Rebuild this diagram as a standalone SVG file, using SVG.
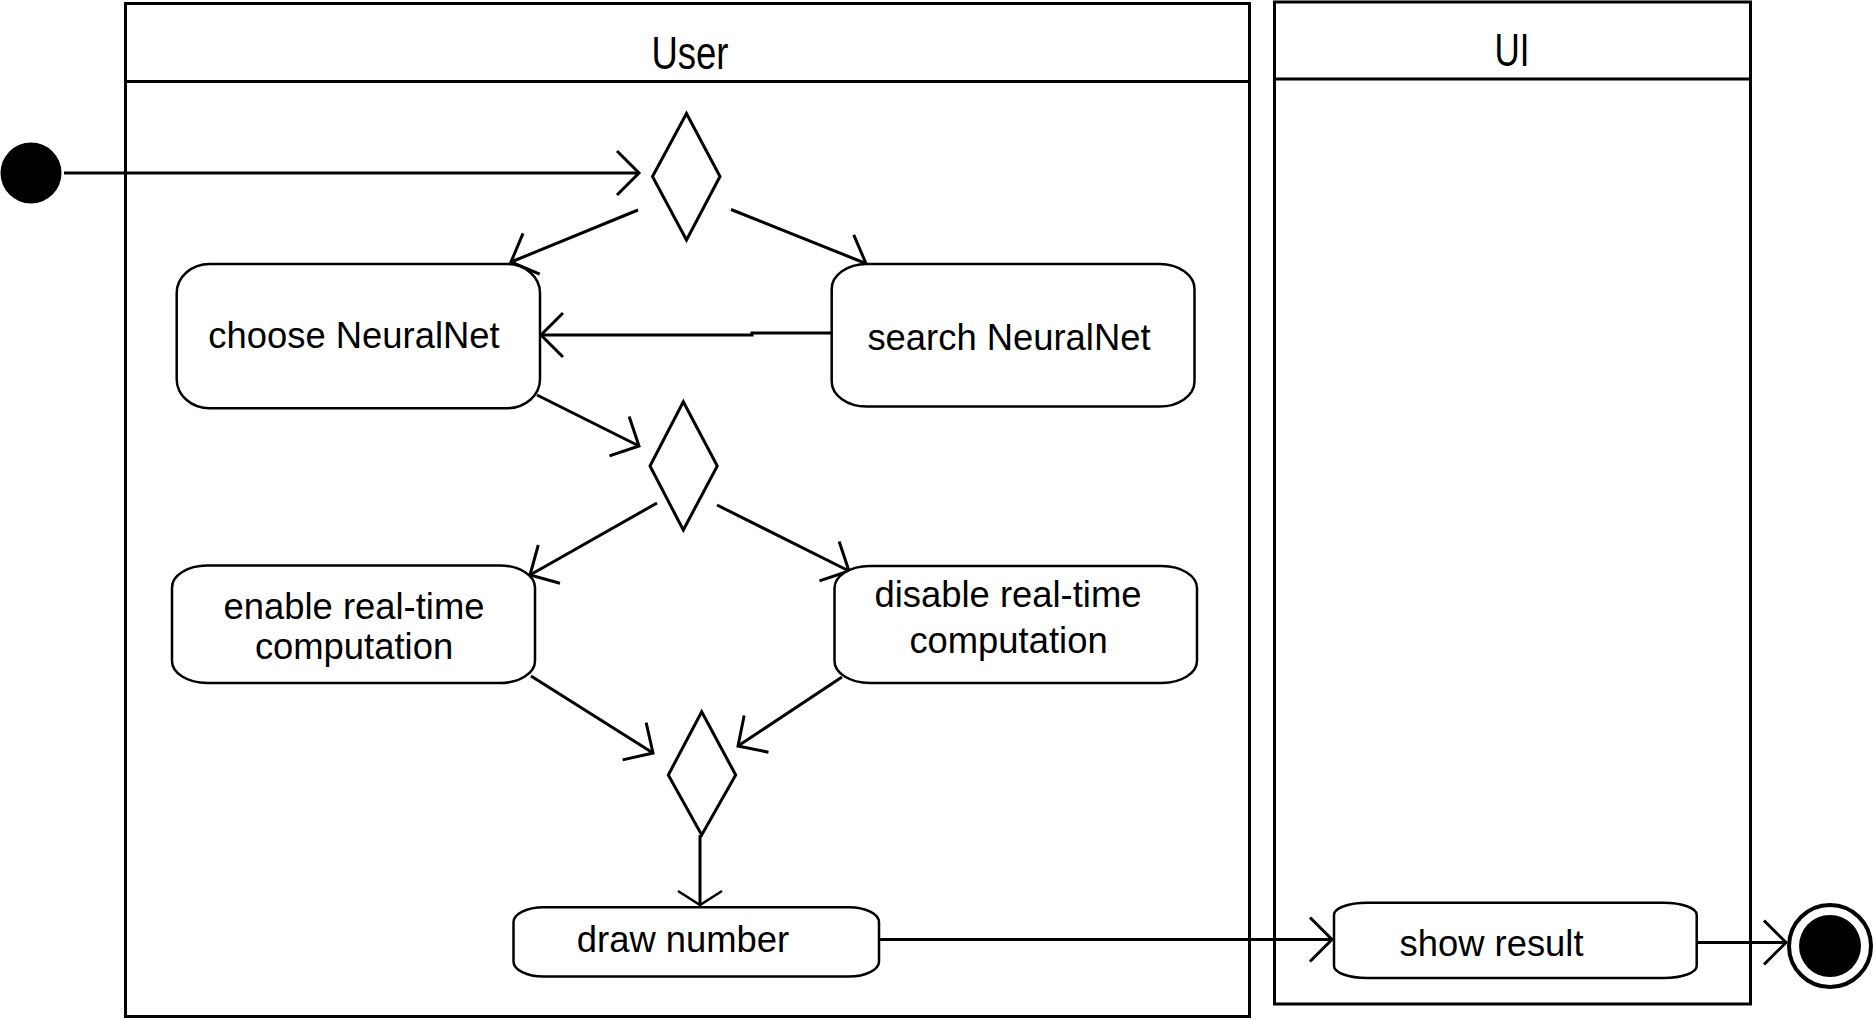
<svg xmlns="http://www.w3.org/2000/svg" width="1874" height="1020" viewBox="0 0 1874 1020">
<style>
  .pool { fill: #fff; stroke: #000; stroke-width: 3; }
  .box { fill: #fff; stroke: #000; stroke-width: 2.5; }
  .dia { fill: #fff; stroke: #000; stroke-width: 3; stroke-linejoin: miter; }
  .edge { fill: none; stroke: #000; stroke-width: 3; }
  .lbl { font-family: "Liberation Sans", Arial, Helvetica, sans-serif; font-size: 36.4px; fill: #000; text-anchor: middle; }
  .title { font-family: "Liberation Sans", Arial, Helvetica, sans-serif; font-size: 46px; fill: #000; text-anchor: middle; }
</style>
<defs>
  <marker id="open" markerUnits="userSpaceOnUse" markerWidth="1" markerHeight="1" refX="0" refY="0" orient="auto" overflow="visible">
    <path d="M-22,-22 L0,0 L-22,22" fill="none" stroke="#000" stroke-width="3"/>
  </marker>
  <marker id="flat" markerUnits="userSpaceOnUse" markerWidth="1" markerHeight="1" refX="0" refY="0" orient="auto" overflow="visible">
    <path d="M-14,-22 L0,0 L-14,22" fill="none" stroke="#000" stroke-width="2.5"/>
  </marker>
</defs>
<rect width="1874" height="1020" fill="#fff"/>

<g id="pool-user">
  <rect class="pool" x="125.5" y="3.5" width="1124" height="1013"/>
  <line x1="125.5" y1="81.5" x2="1249.5" y2="81.5" stroke="#000" stroke-width="3"/>
  <text class="title" x="690" y="68.5" textLength="77" lengthAdjust="spacingAndGlyphs">User</text>
</g>
<g id="pool-ui">
  <rect class="pool" x="1274.5" y="2" width="476" height="1002"/>
  <line x1="1274.5" y1="79" x2="1750.5" y2="79" stroke="#000" stroke-width="3"/>
  <text class="title" x="1512" y="66" textLength="35" lengthAdjust="spacingAndGlyphs">UI</text>
</g>

<g id="connectors">
  <path class="edge" d="M64,173 L639,173" marker-end="url(#open)"/>
  <path class="edge" d="M638,210 L511,262" marker-end="url(#open)"/>
  <path class="edge" d="M731,209.5 L866,263.5" marker-end="url(#open)"/>
  <path class="edge" d="M831,333 L752,333 L752,335 L541,335" marker-end="url(#open)"/>
  <path class="edge" d="M537,395 L639,446" marker-end="url(#open)"/>
  <path class="edge" d="M657,503 L530,575" marker-end="url(#open)"/>
  <path class="edge" d="M717,505 L849,571" marker-end="url(#open)"/>
  <path class="edge" d="M531,676 L653,753" marker-end="url(#open)"/>
  <path class="edge" d="M842,677 L738,746" marker-end="url(#open)"/>
  <path class="edge" d="M700,835 L700,905" stroke-width="2.5" marker-end="url(#flat)"/>
  <path class="edge" d="M879,939.5 L1332,939.5" marker-end="url(#open)"/>
  <path class="edge" d="M1693,942.5 L1786,942.5" marker-end="url(#open)"/>
</g>

<g id="start">
  <circle cx="31" cy="173" r="30.5" fill="#000"/>
</g>

<g id="decision1">
  <polygon class="dia" points="686.5,113.5 720,176.5 686.5,240 652.5,176.5"/>
</g>

<g id="choose">
  <rect class="box" x="176.7" y="264" width="363.3" height="144.3" rx="33" ry="29"/>
  <text class="lbl" x="354" y="348.3">choose NeuralNet</text>
</g>

<g id="search">
  <rect class="box" x="831.7" y="264" width="362.8" height="142.5" rx="35" ry="25"/>
  <text class="lbl" x="1009" y="350">search NeuralNet</text>
</g>

<g id="decision2">
  <polygon class="dia" points="683.3,401.7 717.3,466 683.3,530 650,466"/>
</g>

<g id="enable">
  <rect class="box" x="172" y="565.5" width="363" height="117.5" rx="35" ry="22"/>
  <text class="lbl" x="354" y="619">enable real-time</text>
  <text class="lbl" x="354" y="659">computation</text>
</g>

<g id="disable">
  <rect class="box" x="834.5" y="566" width="362.5" height="117" rx="35" ry="22"/>
  <text class="lbl" x="1008" y="607">disable real-time</text>
  <text class="lbl" x="1008.5" y="653">computation</text>
</g>

<g id="merge">
  <polygon class="dia" points="701.7,711.7 735.7,775 701.7,835 668.3,775"/>
</g>

<g id="draw">
  <rect class="box" x="513.5" y="907.3" width="365.5" height="69.2" rx="30" ry="15"/>
  <text class="lbl" x="683" y="952">draw number</text>
</g>

<g id="show">
  <rect class="box" x="1334" y="902.7" width="362.7" height="75.3" rx="33" ry="12"/>
  <text class="lbl" x="1491.5" y="956">show result</text>
</g>

<g id="end">
  <circle cx="1830" cy="946" r="41" fill="#fff" stroke="#000" stroke-width="4"/>
  <circle cx="1830" cy="946" r="31" fill="#000"/>
</g>
</svg>
